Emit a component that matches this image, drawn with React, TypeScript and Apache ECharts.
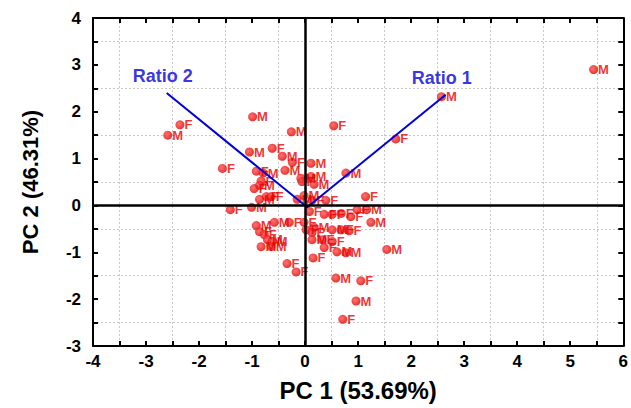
import React, { useEffect, useRef } from "react";
import * as echarts from "echarts";

const xTicks = [-4, -3, -2, -1, 0, 1, 2, 3, 4, 5, 6];
const yTicks = [-3, -2, -1, 0, 1, 2, 3, 4];

const sampleX = [
  5.44, 2.57, 1.71, -2.59, -2.36, -0.99, -0.26, 0.54, -1.05, -0.62,
  -0.43, -0.24, 0.11, -1.56, -0.92, -0.79, -0.38, 0.77, 0.11, -0.08,
  0.17, -0.83, -0.86, -0.96, -0.06, -0.73, -0.64, -0.86, 1.14, -0.15,
  0.13, -0.02, -1.41, -1.01, 0.08, 0.98, 1.16, 0.36, 0.51, 0.68,
  0.86, 1.24, -0.92, -0.58, -0.3, -0.86, -0.77, -0.71, -0.62, -0.83,
  -0.64, -0.02, 0.02, 0.17, 0.13, 0.51, 0.68, 0.83, 0.13, 0.32,
  0.51, 0.36, 0.6, 0.77, 1.54, 0.15, -0.34, -0.17, 0.58, 1.05,
  0.96, 0.71, 0.39,
];
const sampleY = [
  2.9, 2.32, 1.42, 1.5, 1.72, 1.89, 1.57, 1.7, 1.14, 1.22,
  1.05, 0.92, 0.9, 0.79, 0.73, 0.69, 0.75, 0.69, 0.62, 0.58,
  0.45, 0.52, 0.43, 0.36, 0.51, 0.19, 0.19, 0.13, 0.19, 0.13,
  0.11, 0.21, -0.09, -0.04, -0.13, -0.09, -0.09, -0.19, -0.19, -0.17,
  -0.24, -0.36, -0.43, -0.36, -0.36, -0.56, -0.62, -0.73, -0.77, -0.88,
  -0.88, -0.36, -0.52, -0.47, -0.58, -0.52, -0.52, -0.54, -0.73, -0.73,
  -0.77, -0.9, -0.99, -1.01, -0.94, -1.12, -1.24, -1.42, -1.55, -1.61,
  -2.04, -2.43, 0.11,
];
const sampleSex = [
  "M", "M", "F", "M", "F", "M", "M", "F", "M", "F",
  "M", "F", "M", "F", "F", "M", "M", "M", "M", "M",
  "M", "F", "M", "F", "F", "F", "F", "M", "F", "M",
  "F", "M", "F", "M", "F", "F", "M", "F", "F", "F",
  "F", "M", "M", "M", "F", "F", "F", "M", "M", "M",
  "M", "F", "F", "M", "F", "M", "F", "F", "M", "F",
  "F", "F", "M", "M", "M", "F", "F", "F", "M", "F",
  "M", "F", "F",
];

const loadingNames = ["Ratio 2", "Ratio 1"];
const loadingX = [-2.61, 2.65];
const loadingY = [2.4, 2.36];
const loadingOrigin = [0.04, -0.04];

const FONT = "'Liberation Sans', Arial, sans-serif";

export default function App() {
  const ref = useRef<HTMLDivElement>(null);
  useEffect(() => {
    if (!ref.current) return;
    const chart = echarts.init(ref.current, null, { renderer: "svg" });
    const points = sampleX.map((x, i) => [x, sampleY[i], sampleSex[i]]);
    const loadingLine = [
      [loadingX[0], loadingY[0]],
      [loadingOrigin[0], loadingOrigin[1]],
      [loadingX[1], loadingY[1]],
    ];
    const loadingLabels = loadingNames.map((n, i) => [loadingX[i], loadingY[i], n]);

    const baseX = {
      type: "value",
      min: xTicks[0],
      max: xTicks[xTicks.length - 1],
      interval: 1,
      axisLine: { show: true, onZero: false, lineStyle: { color: "#000", width: 2 } },
      axisTick: { show: true, inside: true, length: 5, lineStyle: { color: "#000", width: 2 } },
      minorTick: { show: true, splitNumber: 2, length: 5, lineStyle: { color: "#000", width: 2 } },
      splitLine: { show: false },
      minorSplitLine: { show: true, lineStyle: { color: "#c8c8c8", type: [2, 2], width: 1 } },
    };
    const baseY = {
      type: "value",
      min: yTicks[0],
      max: yTicks[yTicks.length - 1],
      interval: 1,
      axisLine: { show: true, onZero: false, lineStyle: { color: "#000", width: 2 } },
      axisTick: { show: true, inside: true, length: 5, lineStyle: { color: "#000", width: 2 } },
      minorTick: { show: true, splitNumber: 2, length: 5, lineStyle: { color: "#000", width: 2 } },
      splitLine: { show: false },
      minorSplitLine: { show: true, lineStyle: { color: "#c8c8c8", type: [2, 2], width: 1 } },
    };

    chart.setOption({
      animation: false,
      backgroundColor: "#fff",
      grid: { left: 93, right: 5, top: 18, bottom: 62, containLabel: false },
      xAxis: [
        {
          ...baseX,
          position: "bottom",
          name: "PC 1 (53.69%)",
          nameLocation: "middle",
          nameGap: 32,
          nameTextStyle: { fontFamily: FONT, fontWeight: "bold", fontSize: 24, color: "#000" },
          axisLabel: { fontFamily: FONT, fontWeight: "bold", fontSize: 17, color: "#000", margin: 7 },
        },
        {
          ...baseX,
          position: "top",
          axisLabel: { show: false },
          minorSplitLine: { show: false },
        },
      ],
      yAxis: [
        {
          ...baseY,
          position: "left",
          name: "PC 2 (46.31%)",
          nameLocation: "middle",
          nameGap: 52,
          nameRotate: 90,
          nameTextStyle: { fontFamily: FONT, fontWeight: "bold", fontSize: 22, color: "#000" },
          axisLabel: { fontFamily: FONT, fontWeight: "bold", fontSize: 17, color: "#000", margin: 12 },
        },
        {
          ...baseY,
          position: "right",
          axisLabel: { show: false },
          minorSplitLine: { show: false },
        },
      ],
      series: [
        {
          type: "line",
          xAxisIndex: 0,
          yAxisIndex: 0,
          data: [],
          markLine: {
            silent: true,
            symbol: "none",
            label: { show: false },
            lineStyle: { color: "#000", width: 2.5, type: "solid" },
            data: [{ xAxis: 0 }, { yAxis: 0 }],
          },
        },
        {
          type: "scatter",
          xAxisIndex: 0,
          yAxisIndex: 0,
          data: points,
          symbol: "circle",
          symbolSize: 9,
          itemStyle: {
            color: new echarts.graphic.RadialGradient(0.4, 0.4, 0.6, [
              { offset: 0, color: "#ff5050" },
              { offset: 1, color: "#e60000" },
            ]),
          },
          label: {
            show: true,
            position: "right",
            distance: 0,
            formatter: (p: any) => p.value[2],
            fontFamily: FONT,
            fontSize: 13,
            fontWeight: "bold",
            color: "#e60000",
          },
          z: 3,
        },
        {
          type: "line",
          xAxisIndex: 0,
          yAxisIndex: 0,
          data: loadingLine,
          symbol: "none",
          lineStyle: { color: "#0000dd", width: 2 },
          z: 4,
        },
        {
          type: "scatter",
          xAxisIndex: 0,
          yAxisIndex: 0,
          data: loadingLabels,
          symbolSize: 0,
          label: {
            show: true,
            position: "top",
            distance: 8,
            offset: [-4, 0],
            formatter: (p: any) => p.value[2],
            fontFamily: FONT,
            fontSize: 18,
            fontWeight: "bold",
            color: "#0000dd",
          },
          z: 5,
        },
      ],
    });
    return () => chart.dispose();
  }, []);
  return <div ref={ref} style={{ width: 631, height: 408, position: "absolute", left: 0, top: 0 }} />;
}
